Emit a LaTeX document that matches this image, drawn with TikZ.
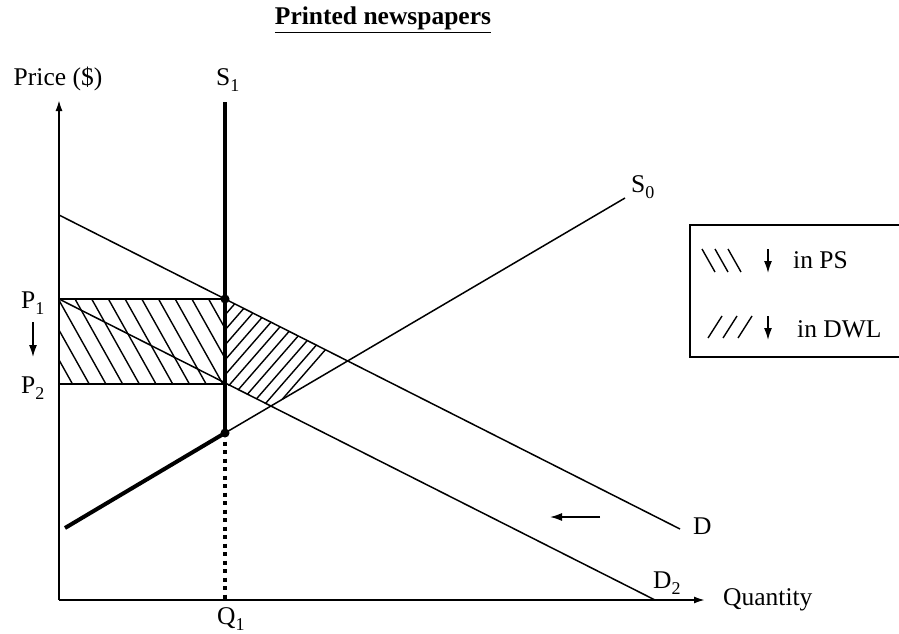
\documentclass[tikz,border=0pt]{standalone}
\usepackage{fontspec}
\setmainfont{Liberation Serif}
\usetikzlibrary{arrows.meta, positioning}
\newcommand{\lowidx}[1]{\raisebox{-6pt}{\fontsize{18}{20}\selectfont #1}}

\begin{document}
\begin{tikzpicture}[x=1pt, y=-1pt,
    lbl/.style={font=\fontsize{25.5}{30}\selectfont, inner sep=0pt, anchor=base west},
    axis/.style={line width=1.8pt, -{Latex[length=11pt, width=7pt]}},
    curve/.style={line width=1.5pt},
    heavy/.style={line width=4.5pt},
    hatch/.style={line width=1.4pt},
    dot/.style={circle, fill=black, inner sep=0pt, minimum size=9pt},
    pointer/.style={line width=1.5pt, -{Latex[length=12pt, width=8pt]}},
]
    \useasboundingbox (0,0) rectangle (899,634);

    % key points
    \coordinate (O) at (59,600);
    \coordinate (ytop) at (59,100);
    \coordinate (xend) at (705,600);
    \coordinate (P1) at (59,299);
    \coordinate (P2) at (59,384);
    \coordinate (E1) at (225,299);
    \coordinate (E2) at (225,384);
    \coordinate (E0) at (225,433);
    \coordinate (Q1) at (225,600);
    \coordinate (s1top) at (225,102);
    \coordinate (Dtop) at (59,215);
    \coordinate (Dend) at (680,529);
    \coordinate (D2end) at (655,600);
    \coordinate (s0low) at (65,528);
    \coordinate (s0end) at (625,198);
    \coordinate (X1) at (intersection of Dtop--Dend and E0--s0end);
    \coordinate (X2) at (intersection of P1--D2end and E0--s0end);

    % title
    \node[lbl, anchor=base, font=\fontsize{25.5}{30}\selectfont\bfseries] (title) at (383,25)
        {\underline{Printed newspapers}};

    % hatching: fall in PS
    \begin{scope}
        \clip (P1) rectangle (E2);
        \foreach \i in {-3,...,10}
            \draw[hatch] ({58.3+16.7*\i},299) -- ++(47.6,85);
    \end{scope}
    % hatching: fall in DWL
    \begin{scope}
        \clip (E1) -- (X1) -- (X2) -- (E2) -- cycle;
        \foreach \i in {-2,...,10}
            \draw[hatch] (225,{315+15*\i}) -- ++(155,-178);
    \end{scope}

    % axes
    \draw[axis] (O) -- (ytop);
    \draw[axis] (O) -- (xend);
    \node[lbl, anchor=base] (price) at (58,85) {Price (\$)};
    \node[lbl] (qty) at (723,605) {Quantity};

    % price levels
    \draw[curve] (P1) -- (E1);
    \draw[curve] (P2) -- (E2);
    \node[lbl] (p1) at (21,308) {P\lowidx{1}};
    \node[lbl] (p2) at (21,393) {P\lowidx{2}};
    \draw[pointer] (33,322) -- (33,357);

    % demand curves
    \draw[curve] (Dtop) -- (Dend);
    \draw[curve] (P1) -- (D2end);
    \node[lbl] (d) at (693,534) {D};
    \node[lbl] (d2) at (653,588) {D\lowidx{2}};
    \draw[pointer] (600,517) -- (550,517);

    % supply curves
    \draw[heavy] (s1top) -- (E0);
    \draw[line width=4pt, dash pattern=on 4pt off 4.5pt] (E0) -- (Q1);
    \draw[heavy, line width=4pt] (s0low) -- (E0);
    \draw[curve] (E0) -- (s0end);
    \node[lbl] (s1) at (216,85) {S\lowidx{1}};
    \node[lbl] (s0) at (631,192) {S\lowidx{0}};
    \node[lbl] (q1) at (217,624) {Q\lowidx{1}};
    \node[dot] (e1) at (E1) {};
    \node[dot] (e0) at (E0) {};

    % legend
    \draw[curve] (899,225) -- (690,225) -- (690,357) -- (899,357);
    \foreach \i in {0,1,2}
        \draw[hatch] ({702+13*\i},249) -- ++(13,23);
    \foreach \i in {0,1,2}
        \draw[hatch] ({708+15*\i},338) -- ++(14,-22);
    \draw[pointer] (768,249) -- (768,273);
    \draw[pointer] (768,316) -- (768,340);
    \node[lbl] (ps) at (793,268) {in PS};
    \node[lbl] (dwl) at (797,337) {in DWL};
\end{tikzpicture}
\end{document}
